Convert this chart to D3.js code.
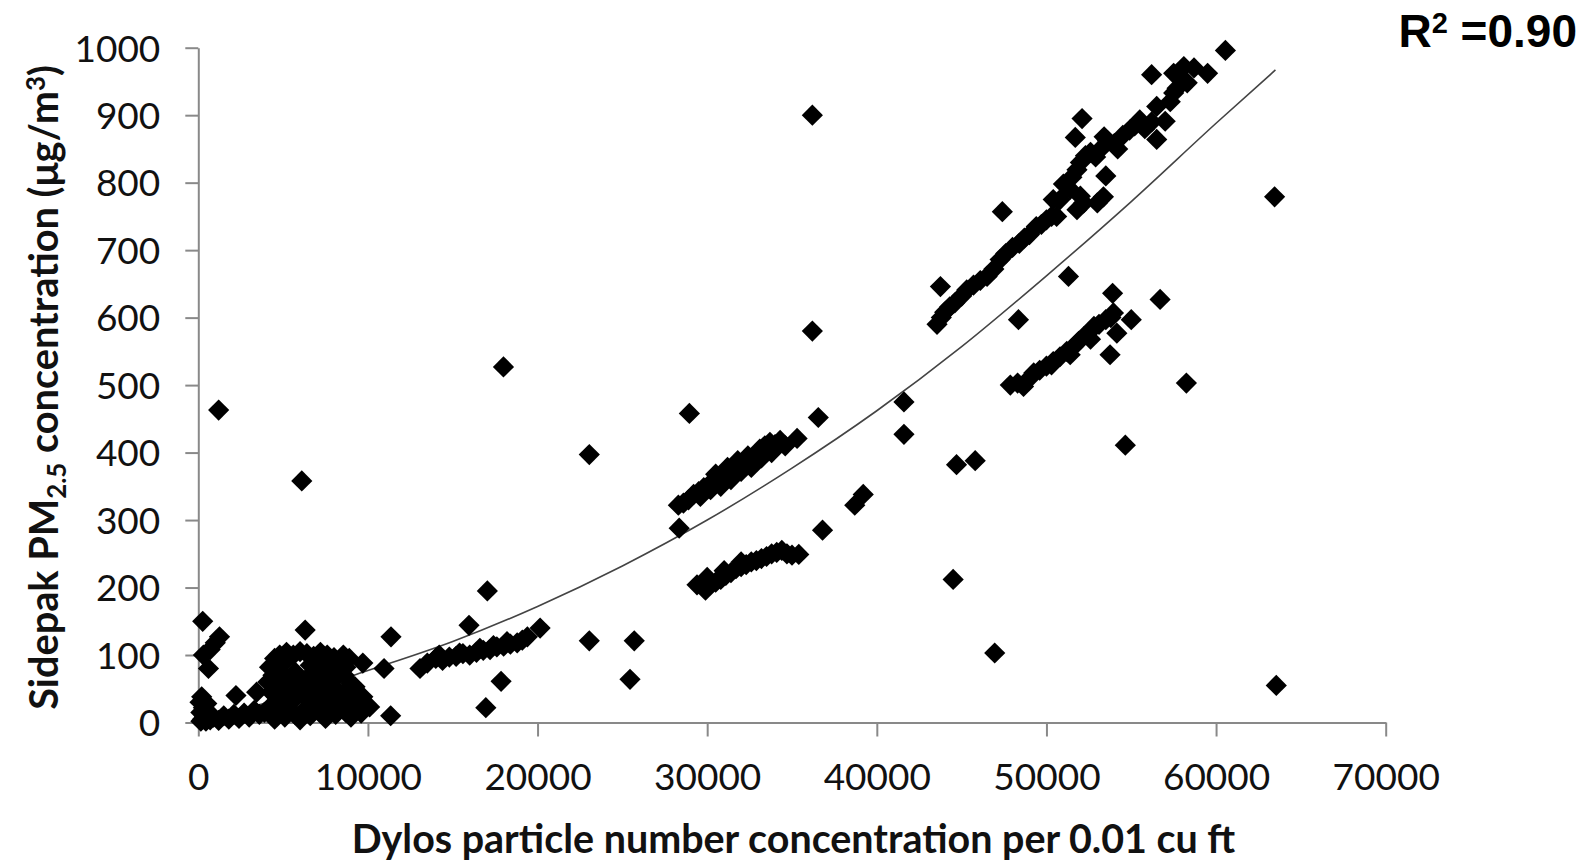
<!DOCTYPE html>
<html>
<head>
<meta charset="utf-8">
<script src="https://cdn.jsdelivr.net/npm/d3@7"></script>
<style>
  body { margin: 0; background: #fff; }
  svg { display: block; }
</style>
</head>
<body>
<div id="chart"></div>
<script>
// scatter points [dylos count, sidepak ug/m3], grouped by where they sit on the chart
const nearOrigin = [
  [100,30],[150,15],[200,38],[250,5],[300,22],[350,10],[450,2],[500,28],[600,12],[700,4],[150,2],
  [900,8],[1200,3],[1500,10],[1800,5],[2100,12],[2400,6],[2700,14],[3000,8],[3300,18],[3600,12],
  [2220,40],[3440,45],[260,150],[300,100],[700,108],[1000,118],[1250,127],[600,80]
];
const lowBlob = [
  [3900,15],[4300,25],[4500,5],[4800,18],[5100,8],[5400,28],[5700,12],[6000,4],[6300,20],[6600,10],
  [6900,28],[7200,15],[7500,6],[7800,22],[8100,12],[8400,25],[8700,15],[9000,8],[9300,22],[9600,14],
  [9900,25],[10100,23],[5200,35],[6500,32],[7700,33],[8800,30],[9500,32],
  [4600,38],[5500,40],[6700,38],[7300,40],[7900,37],[8500,42],[9100,40],[9700,38],[4900,28],[8200,28],
  [4300,45],[4700,55],[5000,70],[5300,48],[5600,62],[5900,42],[6200,55],[6500,68],[6800,45],[7100,58],
  [7400,72],[7700,50],[8000,64],[8300,45],[8600,70],[9000,58],[9240,53],[5700,75],[6900,76],
  [4100,60],[4400,70],[6600,85],[7800,82],[8700,82],[7000,90],[8400,92],
  [4200,82],[4500,95],[4800,100],[5200,104],[5600,100],[6000,105],[6400,102],[6800,98],[7200,104],
  [7600,100],[8000,96],[8550,100],[8900,95],[9700,88],[4800,85],[7400,88],[8200,85],[5100,90],
  [6300,137],[11360,127],[11340,10],[10950,80]
];
const band13k = [
  [13070,80],[13500,88],[14000,95],[14400,92],[14800,97],[15200,98],[15600,102],[16000,100],[16400,104],
  [16800,107],[17200,108],[17600,112],[18000,113],[18400,116],[18800,118],[19100,122],[19400,127],
  [14200,100],[15400,103],[16600,110],[17400,114],[18200,120],
  [15960,144],[17040,195],[16950,22],[17850,61],[20150,140],[23050,121],[25700,121],[25450,64]
];
const highStrays = [[6100,358],[1200,463],[17990,527],[23050,397]];
const upper30k = [
  [28300,322],[28600,325],[28900,330],[29200,338],[29500,342],[29800,348],[30100,352],[30400,356],
  [30700,360],[31000,365],[31300,370],[31600,375],[31900,380],[32200,385],[32500,390],[32800,395],
  [33100,405],[33400,410],[33700,415],[34000,412],[34300,418],[34600,410],[29600,335],[30200,345],
  [30800,350],[31400,360],[32000,372],[32600,378],[33200,392],[33800,400],[30500,368],[31200,378],
  [31800,388],[32400,395],[35300,421]
];
const lower30k = [
  [29400,204],[29900,196],[30200,205],[30500,208],[30800,212],[31100,218],[31400,222],[31700,228],
  [32000,231],[32300,234],[32600,238],[32900,240],[33200,243],[33500,246],[33800,250],[34100,252],
  [34400,255],[34700,250],[35000,248],[35400,249],[30000,215],[31000,225],[32000,238]
];
const mid30kStrays = [
  [28350,288],[28950,458],[36200,580],[36550,452],[36200,900],[36800,285],[38700,322],[39200,338]
];
const upper50k = [
  [43550,590],[43800,600],[44000,608],[44300,616],[44600,622],[45000,632],[45300,641],[45700,648],
  [46100,655],[46500,661],[46900,672],[47270,686],[47600,695],[48000,704],[48400,710],[48700,718],
  [49000,723],[49400,735],[49700,738],[50000,745],[50300,750],[50600,750],[50400,775],[50800,775],
  [51000,798],[51200,794],[51500,808],[51800,819],[52000,830],[52300,840],[52600,845],[52900,838],
  [53200,850],[53400,868],[53600,862],[54000,858],[54200,850],[54500,870],[54900,878],[55200,884],
  [55500,893],[55800,880],[56200,890],[56500,913],[56500,864],[57000,891],[57300,920],[57500,933],
  [57700,940],[58000,955],[58300,948],[57500,962],[58100,972],[58700,970],[56200,960],[59500,962],
  [60550,996],[52100,895],[51700,867],[43750,646],[47400,757],[51800,760],[52200,770],[53000,770],
  [53360,779],[53500,810],[52000,780],[51400,790]
];
const lower50k = [
  [47870,500],[48300,503],[48650,498],[49000,510],[49250,518],[49600,522],[50000,528],[50400,535],
  [50800,542],[51200,550],[51600,557],[51900,565],[52200,572],[52500,578],[52800,587],[53100,590],
  [53500,597],[53800,600],[53950,607],[54150,577],[52600,568],[51400,545],[50300,530]
];
const rightStrays = [
  [41600,475],[41600,427],[44700,382],[45800,388],[44500,212],[46950,103],[48350,597],[51300,661],
  [53900,636],[56700,627],[55000,597],[53750,545],[54650,411],[58250,503],[63450,779],[63550,55]
];

// polynomial trend line
const trendX = [0, 5000, 10000, 15000, 20000, 25000, 30000, 35000, 40000, 45000, 50000, 55000, 60000, 63500];
const trendY = [4, 36, 77, 120, 172, 232, 300, 377, 462, 557, 662, 772, 888, 967];

const xTicks = [0, 10000, 20000, 30000, 40000, 50000, 60000, 70000];
const yTicks = [0, 100, 200, 300, 400, 500, 600, 700, 800, 900, 1000];

const xTitle = "Dylos particle number concentration per 0.01 cu ft";
const rSquared = "0.90";

const points = [].concat(nearOrigin, lowBlob, band13k, highStrays, upper30k, lower30k,
  mid30kStrays, upper50k, lower50k, rightStrays);

const W = 1588, H = 863;
const axisColor = "#898989";
const tickFont = "Lato, 'Open Sans', sans-serif";

const svg = d3.select("#chart").append("svg")
  .attr("width", W)
  .attr("height", H);

const x = d3.scaleLinear().domain([0, 70000]).range([198.3, 1385.7]);
const y = d3.scaleLinear().domain([0, 1000]).range([722.5, 47.7]);

const xAxis = svg.append("g")
  .attr("transform", `translate(0,${y(0)})`)
  .call(d3.axisBottom(x).tickValues(xTicks).tickFormat(d3.format("d"))
    .tickSize(14).tickSizeOuter(0).tickPadding(27));

const yAxis = svg.append("g")
  .attr("transform", `translate(${x(0)},0)`)
  .call(d3.axisLeft(y).tickValues(yTicks).tickFormat(d3.format("d"))
    .tickSize(13).tickSizeOuter(0).tickPadding(25));

[xAxis, yAxis].forEach(g => {
  g.select(".domain").attr("stroke", axisColor).attr("stroke-width", 2);
  g.selectAll(".tick line").attr("stroke", axisColor).attr("stroke-width", 2);
  g.selectAll(".tick text")
    .attr("fill", "#111")
    .style("font-family", tickFont)
    .style("font-size", "37px");
});
yAxis.selectAll(".tick text").attr("dy", "0.36em");

// trend line first, markers cover it in the dense low cluster
const trend = trendX.map((v, i) => [v, trendY[i]]);
svg.append("path")
  .datum(trend)
  .attr("fill", "none")
  .attr("stroke", "#444")
  .attr("stroke-width", 1.6)
  .attr("d", d3.line().x(d => x(d[0])).y(d => y(d[1])).curve(d3.curveMonotoneX));

// markers
const diamond = d3.symbol().type(d3.symbolSquare).size(225);
svg.append("g")
  .selectAll("path")
  .data(points)
  .join("path")
  .attr("d", diamond)
  .attr("transform", d => `translate(${x(d[0])},${y(d[1])}) rotate(45)`)
  .attr("fill", "#000");

// fit a bold title to a target length
function fitText(sel, target) {
  const base = 32;
  sel.style("font-size", base + "px");
  const len = sel.node().getComputedTextLength();
  sel.style("font-size", (base * target / len) + "px");
}

const xt = svg.append("text")
  .attr("x", 793.5)
  .attr("y", 853)
  .attr("text-anchor", "middle")
  .attr("fill", "#111")
  .style("font-family", tickFont)
  .style("font-weight", "bold")
  .text(xTitle);
fitText(xt, 884);

const yt = svg.append("text")
  .attr("transform", "translate(58,387.5) rotate(-90)")
  .attr("text-anchor", "middle")
  .attr("fill", "#111")
  .style("font-family", tickFont)
  .style("font-weight", "bold");
yt.append("tspan").text("Sidepak PM");
yt.append("tspan").attr("font-size", "65%").attr("dy", "0.3em").text("2.5");
yt.append("tspan").attr("dy", "-0.2em").text(" concentration (\u03bcg/m");
yt.append("tspan").attr("font-size", "65%").attr("dy", "-0.5em").text("3");
yt.append("tspan").attr("dy", "0.33em").text(")");
fitText(yt, 645);

const rt = svg.append("text")
  .attr("x", 1577)
  .attr("y", 47)
  .attr("text-anchor", "end")
  .attr("fill", "#000")
  .style("font-family", "'Liberation Sans', Arial, sans-serif")
  .style("font-weight", "bold")
  .style("font-size", "46px");
rt.append("tspan").text("R");
rt.append("tspan").attr("font-size", "29px").attr("dy", "-14").text("2");
rt.append("tspan").attr("dy", "14").text(" =" + rSquared);
</script>
</body>
</html>
